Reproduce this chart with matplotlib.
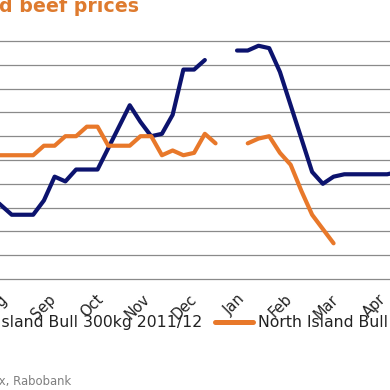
import numpy as np
import matplotlib
matplotlib.use("Agg")
import matplotlib.pyplot as plt
from matplotlib.lines import Line2D

# ---- data (weekly, index 0 ~ start of August) ----
months = ["Aug", "Sep", "Oct", "Nov", "Dec", "Jan", "Feb", "Mar", "Apr"]
month_ticks = [0.47, 4.87, 9.27, 13.67, 18.07, 22.47, 26.87, 31.27, 35.67]

weeks_1112 = np.arange(-1, 38)
bull_1112 = [4.05, 4.01, 3.97, 3.97, 3.97, 4.03, 4.13, 4.11, 4.16, 4.16,
             4.16, 4.25, 4.34, 4.43, 4.36, 4.30, 4.31, 4.39, 4.58, 4.58,
             4.62, np.nan, np.nan, 4.66, 4.66, 4.68, 4.67, 4.57, 4.43, 4.29,
             4.15, 4.10, 4.13, 4.14, 4.14, 4.14, 4.14, 4.14, 4.15]

weeks_1213 = np.arange(-1, 32)
bull_1213 = [4.22, 4.22, 4.22, 4.22, 4.22, 4.26, 4.26, 4.30, 4.30, 4.34,
             4.34, 4.26, 4.26, 4.26, 4.30, 4.30, 4.22, 4.24, 4.22, 4.23,
             4.31, 4.27, np.nan, np.nan, 4.27, 4.29, 4.30, 4.23, 4.18, 4.07,
             3.97, 3.91, 3.85]

label_1112 = "North Island Bull 300kg 2011/12"
label_1213 = "North Island Bull 300kg 2012/13"
title = "d beef prices"
source = "Source: AgriFax, Rabobank"

navy = "#0C136E"
orange = "#E8782A"

W = H = 390
fig = plt.figure(figsize=(3.9, 3.9), dpi=100)

def fx(px):
    return px / W

def fy(py):
    return 1 - py / H

ax = fig.add_axes([0, fy(279), 1, fy(41) - fy(279)])
ax.set_xlim(-0.0935, 36.26)
ax.set_ylim(3.7, 4.7)
ax.set_yticks(np.arange(3.7, 4.71, 0.1))
ax.yaxis.grid(True, color="#8a8a8a", lw=0.9)
for gl in ax.get_ygridlines():
    gl.set_clip_on(False)
ax.set_axisbelow(True)
for s in ax.spines.values():
    s.set_visible(False)
ax.tick_params(axis="y", left=False, labelleft=False)
ax.tick_params(axis="x", length=0, pad=13, labelsize=10.5, labelcolor="#222222")
ax.set_xticks(month_ticks)
ax.set_xticklabels(months, rotation=45, ha="right", va="center",
                   rotation_mode="anchor")

ax.plot(weeks_1112, bull_1112, color=navy, lw=3, solid_capstyle="round",
        solid_joinstyle="round")
ax.plot(weeks_1213, bull_1213, color=orange, lw=3, solid_capstyle="round",
        solid_joinstyle="round")

# title (cropped)
fig.text(fx(-1), fy(12.5), title, color="#DE7B2F", fontsize=13.7,
         fontweight="bold", ha="left", va="baseline")

# legend (manual, cropped)
ly = fy(322)
fig.text(fx(202), ly, label_1112, fontsize=11.3, color="#222222",
         ha="right", va="center")
fig.add_artist(Line2D([fx(215), fx(253)], [ly, ly], color=orange, lw=3.6,
                      solid_capstyle="round", transform=fig.transFigure))
fig.text(fx(258), ly, label_1213, fontsize=11.3, color="#222222",
         ha="left", va="center")

# source
fig.text(fx(71), fy(381), source, fontsize=8.4, color="#7f7f7f",
         ha="right", va="center")

fig.savefig("out.png", dpi=100)
